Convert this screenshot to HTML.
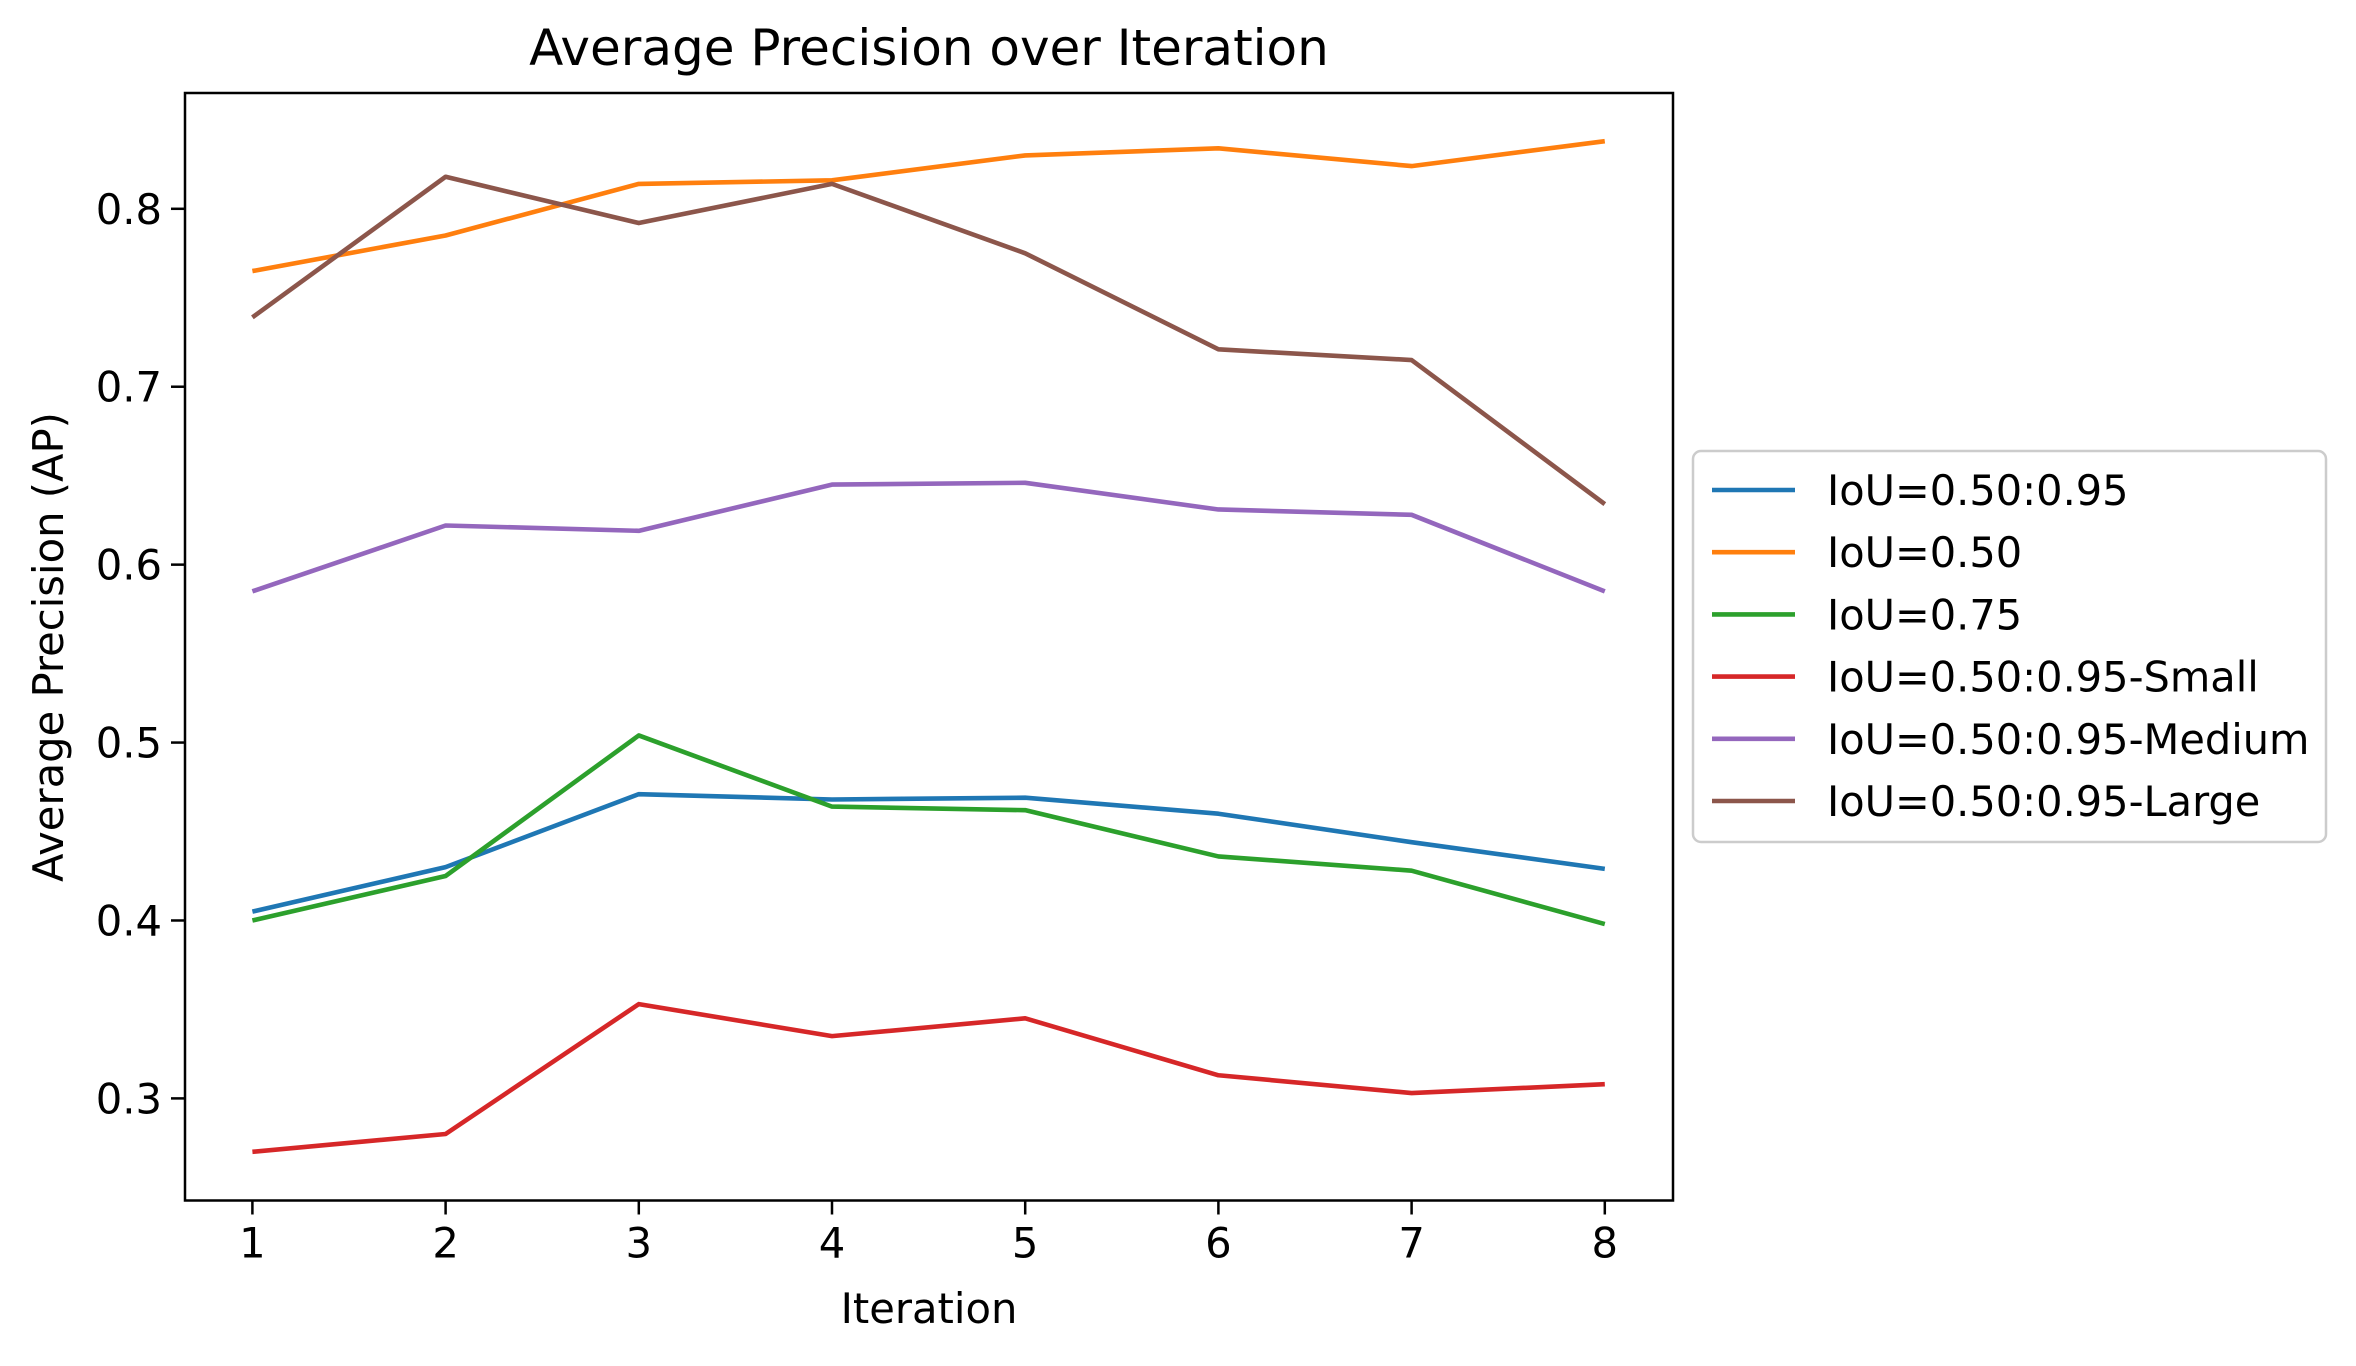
<!DOCTYPE html>
<html><head><meta charset="utf-8"><style>
html,body{margin:0;padding:0;background:#fff}
svg text{font-family:"DejaVu Sans","Liberation Sans",sans-serif;fill:#000}
</style></head><body>
<svg id="chart" width="2356" height="1361" viewBox="0 0 2356 1361" xmlns="http://www.w3.org/2000/svg">
<rect width="2356" height="1361" fill="#fff"/>
<g id="plot"></g>
</svg>
<script>
const iterations = [1,2,3,4,5,6,7,8];
const seriesNames = ["IoU=0.50:0.95","IoU=0.50","IoU=0.75","IoU=0.50:0.95-Small","IoU=0.50:0.95-Medium","IoU=0.50:0.95-Large"];
const apAll = [0.405,0.430,0.471,0.468,0.469,0.460,0.444,0.429];
const ap50 = [0.765,0.785,0.814,0.816,0.830,0.834,0.824,0.838];
const ap75 = [0.400,0.425,0.504,0.464,0.462,0.436,0.428,0.398];
const apSmall = [0.270,0.280,0.353,0.335,0.345,0.313,0.303,0.308];
const apMedium = [0.585,0.622,0.619,0.645,0.646,0.631,0.628,0.585];
const apLarge = [0.739,0.818,0.792,0.814,0.775,0.721,0.715,0.634];
const yTicks = [0.3,0.4,0.5,0.6,0.7,0.8];
const xTicks = [1,2,3,4,5,6,7,8];

const colors = ["#1f77b4","#ff7f0e","#2ca02c","#d62728","#9467bd","#8c564b"];
const allSeries = [apAll,ap50,ap75,apSmall,apMedium,apLarge];
const ns = "http://www.w3.org/2000/svg";
const g = document.getElementById('plot');
const L=185,R=1673,T=93,B=1200.5;
const x = v => 252.4 + (v-1)*(1604.8-252.4)/7;
const y = v => 208.8 + (0.8-v)*(1098.4-208.8)/0.5;
function mk(tag, attrs){const e=document.createElementNS(ns,tag);for(const k in attrs)e.setAttribute(k,attrs[k]);g.appendChild(e);return e;}

allSeries.forEach((s,i)=>{
  const p = mk('polyline',{points:s.map((v,j)=>x(iterations[j])+','+y(v)).join(' '),fill:'none',stroke:colors[i],'stroke-width':4.6,'stroke-linejoin':'round'});
  
  
});
const frame = mk('rect',{x:L,y:T,width:R-L,height:B-T,fill:'none',stroke:'#000','stroke-width':2.5});



xTicks.forEach(t=>{
  const l = mk('line',{x1:x(t),x2:x(t),y1:B,y2:B+14,stroke:'#000','stroke-width':2.5});
  
  
  const tx = mk('text',{x:x(t),y:B+57,'text-anchor':'middle','font-size':41.7});
  tx.textContent = t;
  
  
});
yTicks.forEach(t=>{
  const l = mk('line',{x1:L-14,x2:L,y1:y(t),y2:y(t),stroke:'#000','stroke-width':2.5});
  
  
  const tx = mk('text',{x:L-23,y:y(t)+15,'text-anchor':'end','font-size':41.7});
  tx.textContent = t.toFixed(1);
  
  
});
const title = mk('text',{x:(L+R)/2,y:65,'text-anchor':'middle','font-size':50});
title.textContent='Average Precision over Iteration';


const xl = mk('text',{x:(L+R)/2,y:1323,'text-anchor':'middle','font-size':41.7});
xl.textContent='Iteration';


const yl = mk('text',{x:0,y:0,'text-anchor':'middle','font-size':41.7,transform:'translate(63,647) rotate(-90)'});
yl.textContent='Average Precision (AP)';



const lg = mk('rect',{x:1693,y:451,width:633,height:391,rx:8,fill:'#fff',stroke:'#ccc','stroke-width':2.5});


seriesNames.forEach((n,i)=>{
  const yy = 490 + i*62.2;
  const l = mk('line',{x1:1712,x2:1795,y1:yy,y2:yy,stroke:colors[i],'stroke-width':4.6});
  
  
  const t = mk('text',{x:1827,y:yy+15,'font-size':41.5});
  t.textContent = n;
  
  
});
</script>
</body></html>
